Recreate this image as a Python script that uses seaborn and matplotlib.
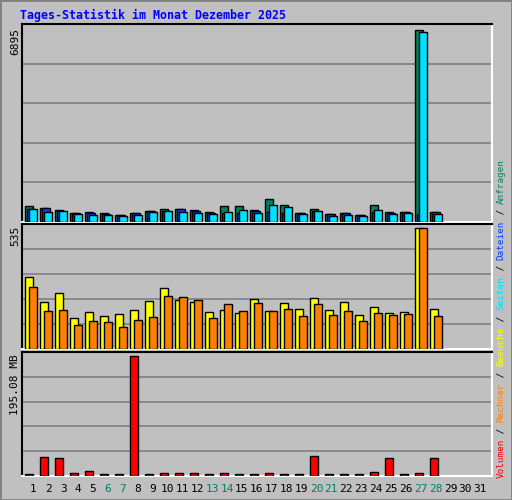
import matplotlib
matplotlib.use("Agg")
import matplotlib.pyplot as plt
import seaborn as sns
import numpy as np

sns.set_style("white")
plt.rcParams['font.family'] = ['DejaVu Sans Mono']

days = list(range(1, 32))
weekend = [6, 7, 13, 14, 20, 21, 27, 28]
anfragen = [557, 520, 436, 339, 375, 327, 266, 339, 411, 484, 484, 436, 375, 557, 557, 436, 809, 617, 339, 484, 302, 339, 266, 593, 375, 375, 6895, 375]
dateien  = [484, 520, 411, 327, 339, 290, 254, 314, 387, 411, 460, 399, 339, 339, 314, 411, 363, 339, 314, 411, 278, 314, 242, 375, 339, 351, 302, 351]
seiten   = [472, 363, 399, 290, 266, 266, 218, 266, 351, 399, 363, 327, 290, 363, 436, 339, 617, 545, 290, 399, 218, 254, 218, 436, 290, 327, 6820, 290]
besuche  = [320, 208, 248, 137, 164, 146, 155, 173, 213, 271, 217, 208, 164, 173, 159, 222, 168, 204, 177, 226, 173, 208, 150, 186, 159, 164, 535, 177]
rechner  = [275, 168, 173, 106, 124, 119, 97, 128, 141, 235, 231, 217, 137, 199, 168, 204, 168, 177, 146, 199, 150, 168, 124, 159, 150, 155, 535, 146]
volumen  = [3.8, 31.5, 29.9, 5.4, 8.7, 3.8, 3.8, 195.08, 3.8, 5.4, 5.4, 5.4, 3.8, 5.4, 3.8, 3.8, 5.4, 3.8, 3.8, 33.1, 3.8, 3.8, 3.8, 7.1, 29.9, 3.8, 5.4, 29.9]

W, H = 512, 500
fig = plt.figure(figsize=(W/100, H/100), dpi=100, facecolor='#c0c0c0')
BG = '#c0c0c0'
XMIN, XMAX = 0.24, 31.57

def grid(ax, ymax):
    for f in [0.2, 0.4, 0.6, 0.8]:
        ax.plot([XMIN, XMAX], [f*ymax]*2, color='#808080', lw=1.2, zorder=0)

n = len(anfragen)
x = np.arange(1, n+1)
bw = 0.53
kw = dict(edgecolor='black', linewidth=1, align='edge', zorder=3)

ax1 = fig.add_axes([22/W, 1-222/H, 470/W, 198/H], facecolor=BG)
ax2 = fig.add_axes([22/W, 1-349/H, 470/W, 125/H], facecolor=BG)
ax3 = fig.add_axes([22/W, 1-476/H, 470/W, 124/H], facecolor=BG)
for ax, ymax in [(ax1, 7110), (ax2, 553), (ax3, 201.6)]:
    ax.set_xlim(XMIN, XMAX); ax.set_ylim(0, ymax)
    ax.set_xticks([]); ax.set_yticks([])
    grid(ax, ymax)
    for s in ['top', 'left']:
        ax.spines[s].set_color('black')
    for s in ['bottom', 'right']:
        ax.spines[s].set_color('white')
    for s in ax.spines.values():
        s.set_linewidth(1.5)

ax1.bar(x-0.56, anfragen, bw, color='#00805c', **kw)
ax1.bar(x-0.43, dateien, bw, color='#0040ff', **kw)
ax1.bar(x-0.29, seiten, bw, color='#00e0ff', **kw)
ax2.bar(x-0.56, besuche, bw, color='#ffff00', **kw)
ax2.bar(x-0.29, rechner, bw, color='#ff8000', **kw)
ax3.bar(x-0.56, volumen, bw, color='#ff0000', **kw)

fig.text(20/W, 1-15/H, 'Tages-Statistik im Monat Dezember 2025', color='#0000ff',
         fontsize=8.4, fontweight='bold', va='center', ha='left')

for txt, ytop in [('6895', 28), ('535', 226), ('195.08 MB', 354)]:
    fig.text(15/W, 1-ytop/H, txt, rotation=90, fontsize=8, va='top', ha='center', color='black')

for d in days:
    xp = 33.3 + (d-1)*14.9
    fig.text(xp/W, 1-489/H, str(d), fontsize=8, ha='center', va='center',
             color='#008060' if d in weekend else 'black')

parts = [('Volumen', '#ff0000'), (' / ', '#000000'), ('Rechner', '#ff8000'), (' / ', '#000000'),
         ('Besuche', '#ffff00'), (' / ', '#000000'), ('Seiten', '#00e0ff'), (' / ', '#000000'),
         ('Dateien', '#0040ff'), (' / ', '#000000'), ('Anfragen', '#00805c')]
y = 478
cw = 5.6
for t, c in parts:
    fig.text(501/W, 1-y/H, t, rotation=90, fontsize=6.7, color=c, ha='center', va='bottom')
    y -= cw*len(t)

fig.patches.append(matplotlib.patches.Rectangle((0, 0), 1, 1, transform=fig.transFigure,
                   fill=False, edgecolor='#808080', lw=2))
fig.savefig('out.png', dpi=100, facecolor=fig.get_facecolor())
